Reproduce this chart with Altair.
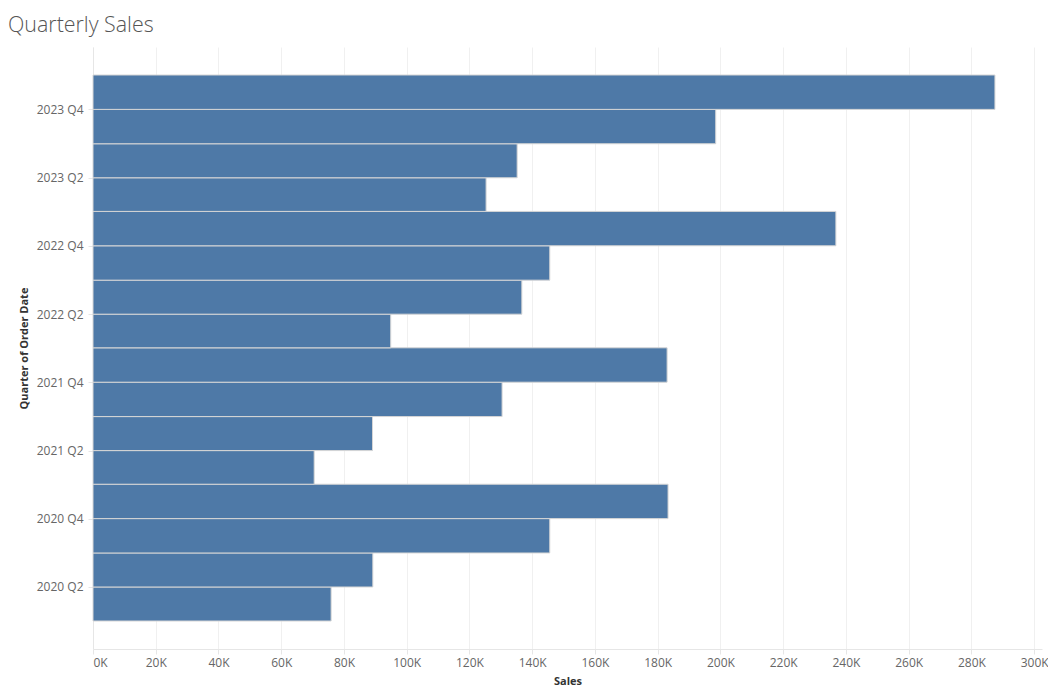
import altair as alt
import pandas as pd

quarters = ["2020 Q1", "2020 Q2", "2020 Q3", "2020 Q4",
            "2021 Q1", "2021 Q2", "2021 Q3", "2021 Q4",
            "2022 Q1", "2022 Q2", "2022 Q3", "2022 Q4",
            "2023 Q1", "2023 Q2", "2023 Q3", "2023 Q4"]
sales = [75900, 89200, 145600, 183300,
         70500, 89100, 130400, 183000,
         94900, 136700, 145600, 236800,
         125300, 135200, 198500, 287500]
y_tick_quarters = ["2020 Q2", "2020 Q4", "2021 Q2", "2021 Q4",
                   "2022 Q2", "2022 Q4", "2023 Q2", "2023 Q4"]
x_ticks = list(range(0, 300001, 20000))


def q_period(q):
    return pd.Period(q.replace(" ", ""), freq="Q")


df = pd.DataFrame({
    "Quarter": quarters,
    "start": [q_period(q).start_time.strftime("%Y-%m-%d") for q in quarters],
    "end": [(q_period(q) + 1).start_time.strftime("%Y-%m-%d") for q in quarters],
    "Sales": sales,
})

y_tick_values = [int(q_period(q).start_time.tz_localize("UTC").timestamp() * 1000)
                 for q in y_tick_quarters]

FONT = "Open Sans"

chart = alt.Chart(df).mark_rect(
    color="#4e79a7", stroke="#d6d6d6", strokeWidth=1
).encode(
    x=alt.X("Sales:Q",
            scale=alt.Scale(domain=[0, 302500], nice=False, zero=True),
            axis=alt.Axis(title="Sales", values=x_ticks,
                          labelExpr="format(datum.value / 1000, 'd') + 'K'",
                          labelFlush=True, grid=True, tickSize=5,
                          labelPadding=3, titlePadding=7)),
    x2=alt.datum(0),
    y=alt.Y("start:T",
            scale=alt.Scale(type="utc", padding=28, nice=False),
            axis=alt.Axis(title="Quarter of Order Date", values=y_tick_values,
                          labelExpr="utcFormat(datum.value, '%Y') + ' Q' + utcquarter(datum.value)",
                          grid=False, tickSize=5, labelPadding=5, titlePadding=7)),
    y2="end:T",
    tooltip=["Quarter", "Sales"],
).properties(
    width=1040,
    height=678,
    autosize=alt.AutoSizeParams(type="fit", contains="padding"),
    padding={"left": 0, "top": 7, "right": 0, "bottom": 0},
    title=alt.TitleParams("Quarterly Sales", anchor="start", fontSize=21.4,
                          font=FONT, fontWeight=300, color="#555555", offset=10.5,
                          frame="group", dx=-85),
).configure_view(
    stroke=None
).configure_axis(
    labelFont=FONT, labelFontSize=12, labelColor="#666666",
    titleFont=FONT, titleFontSize=11, titleFontWeight="bold", titleColor="#333333",
    domainColor="#e6e6e6", tickColor="#e6e6e6", gridColor="#f0f0f0",
)

chart.save("out.html", embed_options={"renderer": "svg", "actions": False})
